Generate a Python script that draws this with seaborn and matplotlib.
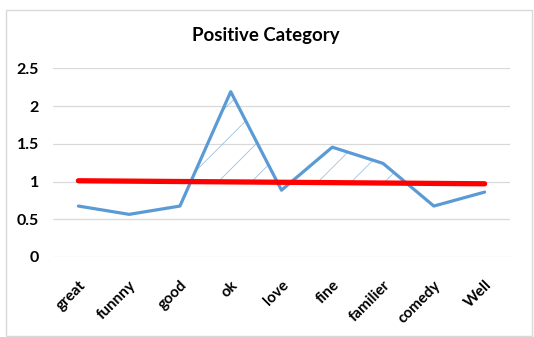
import numpy as np
import pandas as pd
import seaborn as sns
import matplotlib
matplotlib.use("Agg")
import matplotlib.pyplot as plt
from matplotlib.patches import Rectangle

categories = ["great", "funnny", "good", "ok", "love", "fine", "familier", "comedy", "Well"]
values = [0.675, 0.565, 0.675, 2.19, 0.885, 1.455, 1.24, 0.675, 0.86]
trend_values = [1.01, 1.005, 1.0, 0.995, 0.99, 0.985, 0.98, 0.975, 0.97]
yticks = [0, 0.5, 1, 1.5, 2, 2.5]
ytick_labels = ["0", "0.5", "1", "1.5", "2", "2.5"]
title = "Positive Category"

sns.set_theme(style="white")
plt.rcParams["font.family"] = ["Lato", "DejaVu Sans"]
plt.rcParams["hatch.linewidth"] = 0.5

df = pd.DataFrame({"word": categories, "value": values, "trend": trend_values})

fig = plt.figure(figsize=(5.34, 3.37), dpi=100)
fig.patches.append(Rectangle((6 / 534, 1 - 336 / 337), (532 - 6) / 534, (336 - 10) / 337,
                             transform=fig.transFigure, fill=False,
                             edgecolor="#D9D9D9", linewidth=1.0))
ax = fig.add_axes([53 / 534, 1 - 257 / 337, (510 - 53) / 534, (257 - 68.3) / 337])

x = np.arange(len(categories))
v = np.array(values)
t = np.array(trend_values)
ax.fill_between(x, v, t, where=v > t, interpolate=True, facecolor="none",
                edgecolor="#8DB6E0", hatch="/", linewidth=0)

sns.lineplot(data=df, x="word", y="value", ax=ax, color="#5B9BD5", linewidth=2.3, sort=False)
sns.lineplot(data=df, x="word", y="trend", ax=ax, color="#FF0000", linewidth=3.8, sort=False)

ax.set_xlim(-0.5, len(categories) - 0.5)
ax.set_ylim(0, 2.5)
ax.set_yticks(yticks)
ax.set_yticklabels(ytick_labels, fontsize=11.5, fontweight="bold", color="#000000")
ax.set_xticks(x)
ax.set_xticklabels(categories, rotation=45, ha="right", rotation_mode="anchor",
                   fontsize=11, fontweight="bold", color="#000000")
ax.tick_params(axis="y", length=0, pad=10)
ax.tick_params(axis="x", length=0, pad=15)
ax.grid(axis="y", color="#D9D9D9", linewidth=0.9)
ax.set_axisbelow(True)
for s in ax.spines.values():
    s.set_visible(False)
ax.set_xlabel("")
ax.set_ylabel("")
fig.text(265.5 / 534, 1 - 36 / 337, title, ha="center", va="center",
         fontsize=13.4, fontweight="bold", color="#000000")

fig.savefig("out.png", dpi=100)
